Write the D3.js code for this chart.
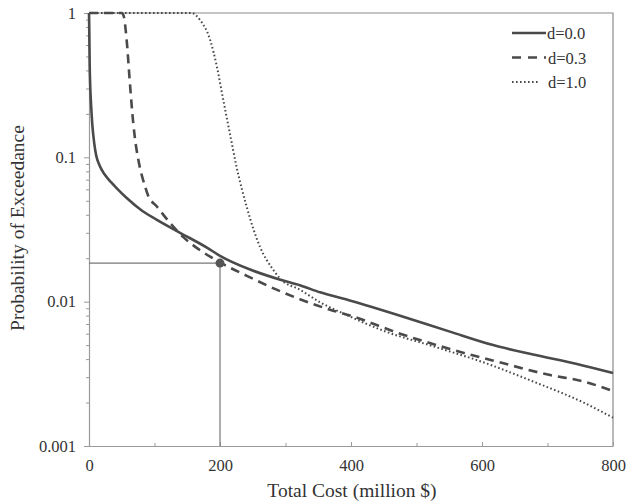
<!DOCTYPE html>
<html>
<head>
<meta charset="utf-8">
<script src="https://cdn.jsdelivr.net/npm/d3@7"></script>
<style>
  body { margin: 0; background: #fff; }
  text { font-family: "Liberation Serif", "Times New Roman", serif; fill: #333; }
</style>
</head>
<body>
<svg id="chart"></svg>
<script>
// exceedance curves, [total cost (million $), probability]
var costD00 = [0, 0.5, 1, 2, 3, 5, 8, 11, 16, 24, 34, 44, 58, 80, 103, 139, 180, 200, 246, 292, 322, 353, 398, 475, 551, 617, 678, 745, 800];
var probD00 = [1, 0.7, 0.45, 0.3, 0.24, 0.17, 0.125, 0.103, 0.088, 0.076, 0.067, 0.06, 0.052, 0.043, 0.037, 0.030, 0.0237, 0.0208, 0.0167, 0.0142, 0.013, 0.0116, 0.0102, 0.0080, 0.0062, 0.0050, 0.0043, 0.0037, 0.0032];

var costD03 = [0, 50, 53, 57.5, 62.6, 67.6, 70, 75, 85.5, 90.5, 103, 124, 144, 165, 185, 200, 241, 292, 322, 368, 403, 475, 551, 627, 704, 755, 800];
var probD03 = [1, 1, 0.95, 0.65, 0.32, 0.172, 0.137, 0.098, 0.063, 0.054, 0.046, 0.035, 0.028, 0.0235, 0.0205, 0.0187, 0.0151, 0.0118, 0.0104, 0.0088, 0.0079, 0.0060, 0.0047, 0.0038, 0.0031, 0.0028, 0.0024];

var costD10 = [0, 157, 169, 185, 195, 205, 215, 225, 241, 261, 281, 292, 322, 353, 393, 449, 526, 602, 678, 755, 800];
var probD10 = [1, 1, 0.9, 0.65, 0.43, 0.25, 0.147, 0.087, 0.045, 0.024, 0.0167, 0.0144, 0.0121, 0.0099, 0.0081, 0.0063, 0.0049, 0.0038, 0.0028, 0.0020, 0.00157];

var seriesNames = ["d=0.0", "d=0.3", "d=1.0"];
var xTicks = [0, 200, 400, 600, 800];
var xMinorTicks = [100, 300, 500, 700];
var yTicks = [1, 0.1, 0.01, 0.001];
var markCost = 200;
var markProb = 0.0185;

var w = 626, h = 503;
var plotLeft = 89, plotRight = 613, plotTop = 13, plotBottom = 446;

var svg = d3.select("#chart").attr("width", w).attr("height", h);

var x = d3.scaleLinear().domain([0, 800]).range([plotLeft, plotRight]);
var y = d3.scaleLog().domain([0.001, 1]).range([plotBottom, plotTop]);

// minor log ticks on the y axis
var yMinor = [];
[0.001, 0.01, 0.1].forEach(function(b) {
  for (var k = 2; k <= 9; k++) yMinor.push(b * k);
});

// frame, top and right
svg.append("path")
  .attr("d", "M" + plotLeft + "," + plotTop + "H" + plotRight + "V" + plotBottom)
  .attr("fill", "none")
  .attr("stroke", "#8a8a8a")
  .attr("stroke-width", 1.2);

svg.append("g")
  .attr("transform", "translate(" + plotLeft + ",0)")
  .call(d3.axisLeft(y).tickValues(yTicks).tickSize(5).tickPadding(8)
    .tickFormat(function(d) { return d3.format("")(d); }));
svg.append("g")
  .attr("transform", "translate(" + plotLeft + ",0)")
  .call(d3.axisLeft(y).tickValues(yMinor).tickSize(3).tickFormat(""))
  .select(".domain").remove();

svg.append("g")
  .attr("transform", "translate(0," + plotBottom + ")")
  .call(d3.axisBottom(x).tickValues(xTicks).tickSizeInner(-4).tickSizeOuter(0).tickPadding(13));
svg.append("g")
  .attr("transform", "translate(0," + plotBottom + ")")
  .call(d3.axisBottom(x).tickValues(xMinorTicks).tickSize(-3).tickFormat(""))
  .select(".domain").remove();

svg.selectAll(".domain").attr("stroke", "#9a9a9a").attr("stroke-width", 1.2);
svg.selectAll(".tick line").attr("stroke", "#9a9a9a");
svg.selectAll(".tick text").style("font-size", "16.5px").attr("fill", "#333");

// axis titles
svg.append("text")
  .attr("x", 352)
  .attr("y", 497)
  .attr("text-anchor", "middle")
  .style("font-size", "19.5px")
  .text("Total Cost (million $)");

svg.append("text")
  .attr("transform", "translate(24," + 228 + ") rotate(-90)")
  .attr("text-anchor", "middle")
  .style("font-size", "19.5px")
  .text("Probability of Exceedance");

// reference lines to the marked point
svg.append("line")
  .attr("x1", x(0)).attr("x2", x(markCost))
  .attr("y1", y(markProb)).attr("y2", y(markProb))
  .attr("stroke", "#777").attr("stroke-width", 1.2);
svg.append("line")
  .attr("x1", x(markCost)).attr("x2", x(markCost))
  .attr("y1", y(markProb)).attr("y2", y(0.001))
  .attr("stroke", "#777").attr("stroke-width", 1.2);

var line = d3.line()
  .x(function(d) { return x(d[0]); })
  .y(function(d) { return y(d[1]); })
  .curve(d3.curveMonotoneX);

function zip(a, b) { return a.map(function(v, i) { return [v, b[i]]; }); }

var series = [
  { data: zip(costD00, probD00), dash: null, width: 2.6 },
  { data: zip(costD03, probD03), dash: "9,6", width: 2.6 },
  { data: zip(costD10, probD10), dash: "1.6,2.4", width: 2 }
];

svg.append("g").selectAll("path")
  .data(series)
  .enter()
  .append("path")
  .attr("d", function(d) { return line(d.data); })
  .attr("fill", "none")
  .attr("stroke", "#4a4a4a")
  .attr("stroke-width", function(d) { return d.width; })
  .attr("stroke-dasharray", function(d) { return d.dash; });

svg.append("circle")
  .attr("cx", x(markCost))
  .attr("cy", y(markProb))
  .attr("r", 4.5)
  .attr("fill", "#555");

// legend
var legend = svg.append("g").selectAll("g")
  .data(series)
  .enter()
  .append("g")
  .attr("transform", function(d, i) { return "translate(512," + (33 + i * 24.5) + ")"; });

legend.append("line")
  .attr("x1", 0).attr("x2", function(d, i) { return i == 2 ? 27 : 34; })
  .attr("y1", 0).attr("y2", 0)
  .attr("stroke", "#4a4a4a")
  .attr("stroke-width", function(d) { return d.width; })
  .attr("stroke-dasharray", function(d, i) { return i == 1 ? "9,7" : d.dash; });

legend.append("text")
  .attr("x", function(d, i) { return i == 0 ? 35 : 36; })
  .attr("y", 6)
  .style("font-size", "16.5px")
  .text(function(d, i) { return seriesNames[i]; });
</script>
</body>
</html>
